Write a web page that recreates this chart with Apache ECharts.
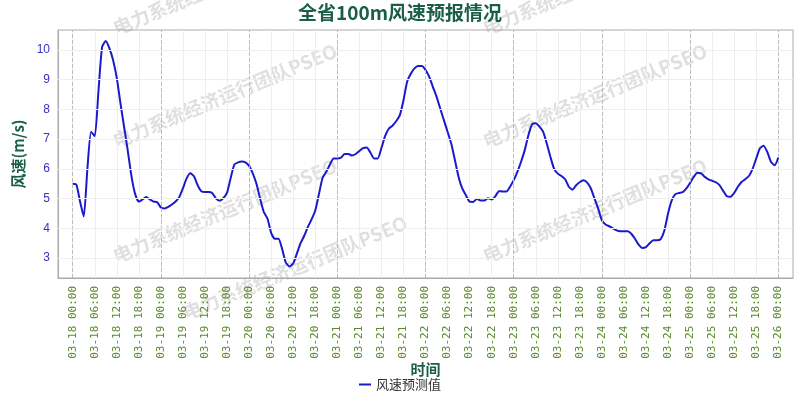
<!DOCTYPE html>
<html>
<head>
<meta charset="utf-8">
<script src="https://cdn.jsdelivr.net/npm/echarts@6/dist/echarts.min.js"></script>
<style>html,body{margin:0;background:#fff}#chart{width:800px;height:400px}</style>
</head>
<body>
<div id="chart"></div>
<script>
// Hourly forecast, 03-18 00:00 .. 03-26 00:00
const days = ['03-18', '03-19', '03-20', '03-21', '03-22', '03-23', '03-24', '03-25'];
const windSpeed = [
  // 03-18
  5.5, 5.47, 4.9, 4.4, 6.0, 7.25, 7.1, 8.6, 10.1, 10.3, 10.05, 9.65,
  9.05, 8.2, 7.4, 6.6, 5.75, 5.15, 4.9, 4.97, 5.05, 4.97, 4.9, 4.88,
  // 03-19
  4.7, 4.67, 4.72, 4.8, 4.9, 5.05, 5.35, 5.68, 5.85, 5.75, 5.45, 5.25,
  5.22, 5.22, 5.18, 5.0, 4.93, 5.02, 5.2, 5.7, 6.15, 6.22, 6.25, 6.22,
  // 03-20
  6.1, 5.85, 5.5, 5.0, 4.55, 4.33, 3.85, 3.65, 3.65, 3.3, 2.85, 2.72,
  2.82, 3.15, 3.5, 3.75, 4.05, 4.3, 4.6, 5.15, 5.7, 5.9, 6.15, 6.35,
  // 03-21
  6.35, 6.38, 6.5, 6.5, 6.45, 6.5, 6.6, 6.7, 6.72, 6.55, 6.35, 6.35,
  6.7, 7.1, 7.35, 7.45, 7.6, 7.8, 8.3, 8.93, 9.2, 9.38, 9.46, 9.46,
  // 03-22
  9.33, 9.1, 8.76, 8.43, 8.03, 7.64, 7.25, 6.85, 6.3, 5.73, 5.34, 5.11,
  4.9, 4.89, 4.99, 4.94, 4.94, 5.01, 4.97, 5.08, 5.25, 5.24, 5.24, 5.4,
  // 03-23
  5.62, 5.9, 6.24, 6.63, 7.13, 7.5, 7.53, 7.42, 7.25, 6.85, 6.4, 6.0,
  5.84, 5.76, 5.65, 5.4, 5.3, 5.45, 5.56, 5.62, 5.54, 5.34, 5.0, 4.66,
  // 03-24
  4.27, 4.13, 4.07, 4.0, 3.93, 3.9, 3.9, 3.9, 3.82, 3.65, 3.45, 3.34,
  3.37, 3.5, 3.6, 3.6, 3.64, 3.93, 4.5, 4.94, 5.15, 5.19, 5.22, 5.34,
  // 03-25
  5.53, 5.73, 5.87, 5.85, 5.73, 5.65, 5.6, 5.55, 5.45, 5.26, 5.08, 5.06,
  5.19, 5.4, 5.56, 5.65, 5.76, 6.0, 6.35, 6.69, 6.78, 6.57, 6.24, 6.12,
  // 03-26
  6.38
];
const yTicks = [3, 4, 5, 6, 7, 8, 9, 10];
const padHours = 4;

// Build category list with a few empty hours at both ends
const categories = [];
const values = [];
const pad2 = n => String(n).padStart(2, '0');
for (let i = -padHours; i < 24 * days.length + 1 + padHours; i++) {
  const d = Math.floor(i / 24);
  const h = ((i % 24) + 24) % 24;
  const dayLabel = d < 0 ? '03-17' : (d >= days.length ? '03-26' : days[d]);
  categories.push(dayLabel + ' ' + pad2(h) + ':00');
  values.push(i >= 0 && i < windSpeed.length ? windSpeed[i] : null);
}
const isSixHour = idx => idx >= padHours && idx <= padHours + 192 && (idx - padHours) % 6 === 0;
const dayLines = [];
for (let d = 0; d <= days.length; d++) dayLines.push({ xAxis: padHours + d * 24 });
const hLines = yTicks.map(v => ({ yAxis: v, lineStyle: { color: '#eee', type: 'solid' } }));

const chart = echarts.init(document.getElementById('chart'));
const mark = '电力系统经济运行团队PSEO';
const wmPos = [[110, 20], [110, 133], [110, 248], [180, 305], [480, 20], [480, 133], [480, 248]];

chart.setOption({
  animation: false,
  title: {
    text: '全省100m风速预报情况',
    left: 'center', top: -2,
    textStyle: { color: '#1a5e4a', fontSize: 19, fontWeight: 'bold', fontFamily: 'Noto Sans CJK SC' }
  },
  graphic: wmPos.map(p => ({
    type: 'text', x: p[0], y: p[1], rotation: Math.PI / 8, silent: true, z: 0,
    style: { text: mark, fill: 'rgba(150,150,150,0.3)', font: 'bold 19px "Noto Sans CJK SC"' }
  })),
  legend: {
    bottom: 4, left: 'center',
    data: ['风速预测值'],
    itemWidth: 12, itemHeight: 2,
    icon: 'rect',
    textStyle: { color: '#333', fontSize: 13, fontFamily: 'Noto Sans CJK SC' }
  },
  grid: { left: 58, right: 7, top: 30, bottom: 122, show: true, borderColor: '#aaa', borderWidth: 1 },
  xAxis: {
    type: 'category', data: categories, boundaryGap: false,
    name: '时间', nameLocation: 'middle', nameGap: 84, nameMoveOverlap: false,
    nameTextStyle: { color: '#1a5e4a', fontSize: 15, fontWeight: 'bold', fontFamily: 'Noto Sans CJK SC' },
    axisLine: { lineStyle: { color: '#aaa' } },
    axisTick: { show: false },
    axisLabel: {
      interval: (idx) => isSixHour(idx), rotate: 90,
      color: '#5a8a2a', fontSize: 11, fontFamily: 'DejaVu Sans Mono', margin: 8
    },
    splitLine: { show: true, interval: (idx) => isSixHour(idx), lineStyle: { color: '#eee' } }
  },
  yAxis: {
    type: 'value', min: 2.33, max: 10.67,
    name: '风速(m/s)', nameLocation: 'middle', nameGap: 28,
    nameTextStyle: { color: '#1a5e4a', fontSize: 15, fontWeight: 'bold', fontFamily: 'Noto Sans CJK SC' },
    axisLine: { show: true, lineStyle: { color: '#aaa' } },
    axisTick: { show: false },
    axisLabel: { color: '#3333cc', fontSize: 12, customValues: yTicks },
    splitLine: { show: false }
  },
  series: [{
    name: '风速预测值', type: 'line', data: values,
    showSymbol: false, smooth: 0.2, z: 3,
    lineStyle: { color: '#1a1acc', width: 2 },
    itemStyle: { color: '#1a1acc' },
    markLine: {
      silent: true, symbol: 'none', label: { show: false },
      lineStyle: { color: '#bbb', type: 'dashed', width: 1 },
      data: dayLines.concat(hLines)
    }
  }]
});
</script>
</body>
</html>
